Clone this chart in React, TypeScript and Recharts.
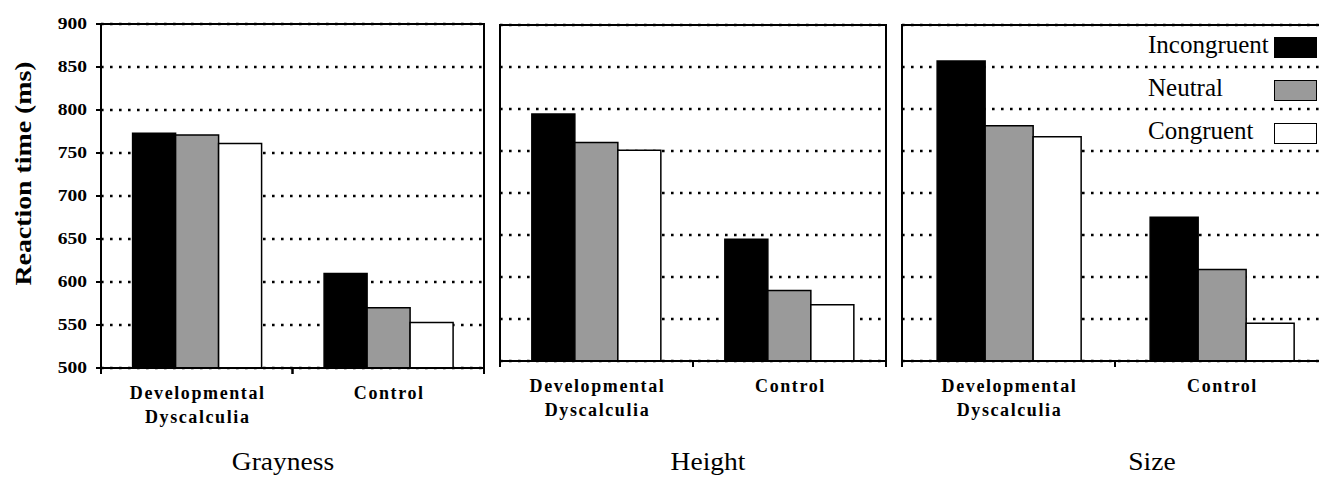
import React from 'react';
import { BarChart, Bar, XAxis, YAxis, CartesianGrid, ReferenceArea, Legend } from 'recharts';

const categories = ['Developmental Dyscalculia', 'Control'];
const categoryLines = [['Developmental', 'Dyscalculia'], ['Control']];
const yTicks = [500, 550, 600, 650, 700, 750, 800, 850, 900];
const seriesNames = ['Incongruent', 'Neutral', 'Congruent'];
const seriesColors = ['#000000', '#9a9a9a', '#ffffff'];
const panelTitles = ['Grayness', 'Height', 'Size'];

const grayIncongruent = [773, 610];
const grayNeutral = [771, 570];
const grayCongruent = [761, 553];

const heightIncongruent = [794, 645];
const heightNeutral = [760, 584];
const heightCongruent = [751, 567];

const sizeIncongruent = [857, 671];
const sizeNeutral = [780, 609];
const sizeCongruent = [767, 545];

const buildRows = (inc: number[], neu: number[], con: number[]) =>
  categories.map((c, i) => ({ category: c, Incongruent: inc[i], Neutral: neu[i], Congruent: con[i] }));

const grayData = buildRows(grayIncongruent, grayNeutral, grayCongruent);
const heightData = buildRows(heightIncongruent, heightNeutral, heightCongruent);
const sizeData = buildRows(sizeIncongruent, sizeNeutral, sizeCongruent);

const FONT = '"Liberation Serif", "Times New Roman", serif';
const H = 478;

type PanelCfg = {
  data: any[];
  left: number;
  width: number;
  mLeft: number;
  mRight: number;
  top: number;
  axisH: number;
  yWidth: number;
  showYLabels: boolean;
  showLegend: boolean;
  title: string;
  titleX: number;
};

const Panel = (cfg: PanelCfg) => {
  const plotLeft = cfg.mLeft + cfg.yWidth;
  const plotRight = cfg.width - cfg.mRight;
  const band = (plotRight - plotLeft) / categories.length;
  const axisY = H - cfg.axisH;

  const catTick = (props: any) => {
    const { x, index } = props;
    const lines = categoryLines[index] || [];
    return (
      <g>
        <line x1={x - band / 2} x2={x - band / 2} y1={axisY} y2={axisY + 6} stroke="#000" strokeWidth={2} />
        <line x1={x + band / 2} x2={x + band / 2} y1={axisY} y2={axisY + 6} stroke="#000" strokeWidth={2} />
        <text
          x={x}
          textAnchor="middle"
          fontFamily={FONT}
          fontWeight="bold"
          fontSize={18}
          letterSpacing={1.6}
          fill="#000"
        >
          {lines.map((l: string, i: number) => (
            <tspan key={i} x={x + 1} y={axisY + 31 + i * 24}>
              {l}
            </tspan>
          ))}
        </text>
      </g>
    );
  };

  const yTick = (props: any) => {
    const { x, y, payload } = props;
    if (!cfg.showYLabels) return <g />;
    return (
      <text
        transform={`translate(${x},${y}) scale(1.22,1)`}
        textAnchor="end"
        dominantBaseline="central"
        fontFamily={FONT}
        fontWeight="bold"
        fontSize={16}
        fill="#000"
      >
        {payload.value}
      </text>
    );
  };

  return (
    <div style={{ position: 'absolute', left: cfg.left, top: 0, width: cfg.width, height: H }}>
      <BarChart
        width={cfg.width}
        height={H}
        data={cfg.data}
        margin={{ top: cfg.top, right: cfg.mRight, bottom: 0, left: cfg.mLeft }}
        barCategoryGap="16.5%"
        barGap={0}
      >
        <CartesianGrid horizontal vertical={false} stroke="#000" strokeWidth={2.6} strokeDasharray="2.6 6.4" />
        <XAxis
          dataKey="category"
          height={cfg.axisH}
          interval={0}
          tickLine={false}
          axisLine={{ stroke: '#000', strokeWidth: 2 }}
          tick={catTick}
        />
        <YAxis
          type="number"
          domain={[500, 900]}
          ticks={yTicks}
          width={cfg.yWidth}
          allowDataOverflow
          axisLine={{ stroke: '#000', strokeWidth: 2 }}
          tickLine={cfg.showYLabels ? { stroke: '#000', strokeWidth: 2 } : false}
          tickSize={5}
          tickMargin={9}
          tick={yTick}
          label={
            cfg.showYLabels
              ? {
                  content: () => (
                    <text
                      transform="translate(23,173.5) rotate(-90) scale(1.16,1)"
                      textAnchor="middle"
                      dominantBaseline="central"
                      fontFamily={FONT}
                      fontWeight="bold"
                      fontSize={24}
                      fill="#000"
                    >
                      Reaction time (ms)
                    </text>
                  ),
                }
              : undefined
          }
        />
        <ReferenceArea
          x1={categories[0]}
          x2={categories[categories.length - 1]}
          y1={500}
          y2={900}
          fill="none"
          stroke="#000"
          strokeWidth={2}
          ifOverflow="visible"
        />
        {seriesNames.map((s, i) => (
          <Bar
            key={s}
            dataKey={s}
            name={s}
            fill={seriesColors[i]}
            stroke="#000"
            strokeWidth={1.5}
            isAnimationActive={false}
          />
        ))}
        {cfg.showLegend && (
          <Legend
            layout="horizontal"
            verticalAlign="middle"
            align="center"
            wrapperStyle={{ left: 258, top: 23, width: 190, height: 130 }}
            content={(props: any) => {
              const items = [...(props.payload || [])].sort(
                (a: any, b: any) => seriesNames.indexOf(a.value) - seriesNames.indexOf(b.value)
              );
              return (
                <div style={{ fontFamily: FONT, fontSize: 25, color: '#000' }}>
                  {items.map((e: any, i: number) => (
                    <div key={i} style={{ position: 'relative', height: 43, lineHeight: '43px', whiteSpace: 'nowrap' }}>
                      <span>{e.value}</span>
                      <span
                        style={{
                          position: 'absolute',
                          left: 126,
                          top: 14,
                          width: 43,
                          height: 21,
                          background: e.color,
                          border: '1.5px solid #000',
                          boxSizing: 'border-box',
                        }}
                      />
                    </div>
                  ))}
                </div>
              );
            }}
          />
        )}
      </BarChart>
      <div
        style={{
          position: 'absolute',
          left: cfg.titleX - cfg.left,
          top: 449,
          transform: 'translateX(-50%) scaleX(1.1)',
          fontFamily: FONT,
          fontSize: 25,
          lineHeight: '25px',
          whiteSpace: 'nowrap',
          color: '#000',
        }}
      >
        {cfg.title}
      </div>
    </div>
  );
};

export default function App() {
  return (
    <div
      style={{
        position: 'fixed',
        left: 0,
        top: 0,
        width: 1319,
        height: H,
        overflow: 'hidden',
        background: '#fff',
      }}
    >
      <Panel
        data={grayData}
        left={0}
        width={500}
        mLeft={41}
        mRight={16}
        top={24}
        axisH={110}
        yWidth={60}
        showYLabels
        showLegend={false}
        title={panelTitles[0]}
        titleX={283}
      />
      <Panel
        data={heightData}
        left={480}
        width={420}
        mLeft={20}
        mRight={14}
        top={25}
        axisH={117}
        yWidth={0}
        showYLabels={false}
        showLegend={false}
        title={panelTitles[1]}
        titleX={708}
      />
      <Panel
        data={sizeData}
        left={890}
        width={460}
        mLeft={12}
        mRight={22}
        top={25}
        axisH={117}
        yWidth={0}
        showYLabels={false}
        showLegend
        title={panelTitles[2]}
        titleX={1152}
      />
    </div>
  );
}
